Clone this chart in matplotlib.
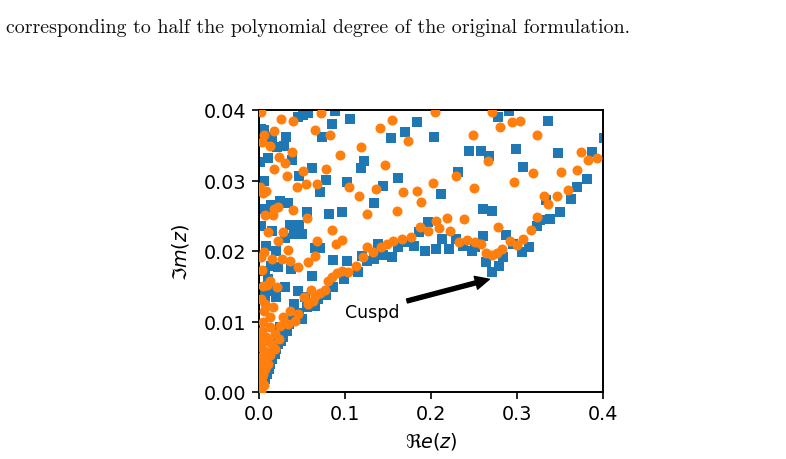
import matplotlib
matplotlib.use("Agg")
import matplotlib.pyplot as plt
import numpy as np

# ---- data ----
blue_re = [
    0.0570, 0.0512, 0.0453, 0.0884, 0.1058, 0.0849, 0.0733, 0.0314, 0.0058, 0.0151,
    0.0209, 0.0291, 0.0105, 0.0384, 0.0616, 0.0465, 0.0779, 0.0709, 0.1023, 0.0058,
    0.0244, 0.0337, 0.0140, 0.0012, 0.0023,
    0.0070, 0.0558, 0.0814, 0.0965, 0.0360, 0.0465, 0.0023, 0.0151, 0.0407, 0.0500,
    0.0302, 0.0081, 0.0198, 0.0651, 0.0709, 0.0860, 0.1023, 0.0140, 0.0221, 0.0372,
    0.0070, 0.0616, 0.0988, 0.0105, 0.0302, 0.0453, 0.0860, 0.0186, 0.0070, 0.0779,
    0.0070, 0.0198, 0.0407, 0.0535, 0.0558, 0.0686, 0.0651, 0.0500, 0.0395, 0.0465,
    0.0349, 0.0244, 0.0326, 0.0279, 0.0256, 0.0221, 0.0198, 0.0186, 0.0151, 0.0128,
    0.0116, 0.0093, 0.0070, 0.0047, 0.0035, 0.0012,
    0.1837, 0.1698, 0.1535, 0.2035, 0.2442, 0.1221, 0.1186, 0.1616, 0.2314, 0.1442,
    0.2116, 0.1337, 0.1965, 0.1860,
    0.1151, 0.1198, 0.1256, 0.1337, 0.1384, 0.1442, 0.1547, 0.1616, 0.1709, 0.1802,
    0.1930, 0.2058, 0.2128, 0.2209, 0.2291, 0.2372, 0.2477, 0.2512, 0.2605, 0.2640,
    0.2709, 0.2791, 0.2837, 0.2872, 0.2953, 0.3058, 0.3140, 0.3233,
    0.2907, 0.2779, 0.3360, 0.2581, 0.2674, 0.2988, 0.3477, 0.3872, 0.4012, 0.3070,
    0.3814, 0.3698, 0.3628, 0.3337, 0.3500, 0.3384, 0.3267, 0.2605, 0.2709,
]
blue_im = [
    0.03957, 0.03929, 0.03901, 0.03990, 0.03872, 0.03801, 0.03617, 0.03617, 0.03716, 0.03617,
    0.03475, 0.03489, 0.03319, 0.03291, 0.03177, 0.03064, 0.03007, 0.02837, 0.02979, 0.02993,
    0.02710, 0.02681, 0.02652, 0.03262, 0.03730,
    0.02596, 0.02553, 0.02525, 0.02553, 0.02369, 0.02369, 0.02355, 0.02284, 0.02241, 0.02241,
    0.02184, 0.02071, 0.02000, 0.02043, 0.02043, 0.01872, 0.01858, 0.01787, 0.01773, 0.01745,
    0.01716, 0.01645, 0.01603, 0.01603, 0.01489, 0.01433, 0.01489, 0.01433, 0.01489, 0.01376,
    0.01348, 0.01348, 0.01248, 0.01348, 0.01206, 0.01319, 0.01220, 0.01035, 0.01064, 0.01121,
    0.00965, 0.00922, 0.00865, 0.00780, 0.00723, 0.00681, 0.00610, 0.00539, 0.00468, 0.00397,
    0.00326, 0.00255, 0.00184, 0.00142, 0.00099, 0.00043,
    0.03830, 0.03688, 0.03603, 0.03617, 0.03418, 0.03277, 0.03177, 0.03035, 0.03121, 0.02922,
    0.02809, 0.02681, 0.02411, 0.02270,
    0.01702, 0.01929, 0.01858, 0.01887, 0.02099, 0.01943, 0.01915, 0.02057, 0.02128, 0.02071,
    0.02000, 0.02028, 0.02170, 0.02028, 0.02170, 0.02071, 0.02000, 0.02057, 0.02213, 0.01844,
    0.01702, 0.01787, 0.01915, 0.02227, 0.02099, 0.01986, 0.02057, 0.02355,
    0.03986, 0.03901, 0.03844, 0.03418, 0.03348, 0.03447, 0.03390, 0.03404, 0.03603, 0.03191,
    0.03021, 0.02908, 0.02738, 0.02723, 0.02553, 0.02454, 0.02440, 0.02596, 0.02567,
]

orange_re = [
    0.0023, 0.0256, 0.0395, 0.0721, 0.0651, 0.0826, 0.0174, 0.0058, 0.0035, 0.0128,
    0.0384, 0.0233, 0.0302, 0.0174, 0.0942, 0.0779, 0.0512, 0.0326, 0.0442, 0.0547,
    0.0674, 0.0081, 0.0047, 0.0012, 0.1047,
    0.0221, 0.0174, 0.0395, 0.0070, 0.0163, 0.0558, 0.0105, 0.0279, 0.0221, 0.0849,
    0.0674, 0.0965, 0.0895, 0.0337, 0.0058, 0.0651, 0.0023, 0.0151, 0.0267, 0.0360,
    0.0570, 0.0453, 0.0035, 0.0965, 0.1035, 0.0907, 0.0849, 0.0802, 0.0128, 0.0093,
    0.0209, 0.0047, 0.0605, 0.0767, 0.0709, 0.0523, 0.0651, 0.1128,
    0.0070, 0.0163, 0.0337, 0.0453, 0.0419, 0.0570, 0.0628, 0.0244, 0.0128, 0.0047,
    0.0035, 0.0186, 0.0105, 0.0186, 0.0070, 0.0035, 0.0105, 0.0047, 0.0035, 0.0012,
    0.0023, 0.0058, 0.0128, 0.0279, 0.0360, 0.0081, 0.0151, 0.0023, 0.0128, 0.0081,
    0.0023, 0.0070, 0.0035, 0.0058, 0.0023, 0.0012, 0.0012, 0.0233,
    0.2047, 0.1547, 0.1407, 0.1733, 0.1186, 0.1465, 0.2488, 0.2291, 0.2023, 0.1360,
    0.1163, 0.1674, 0.1837, 0.1884, 0.2500, 0.1256, 0.1605, 0.2058, 0.2186, 0.2384,
    0.1209, 0.1256, 0.1326, 0.1419, 0.1488, 0.1558, 0.1663, 0.1767, 0.1872, 0.1965,
    0.2093, 0.2221, 0.2326, 0.2419, 0.2512, 0.2581, 0.2640, 0.2709, 0.2767, 0.2826,
    0.2919, 0.3000, 0.3070, 0.3163, 0.2779,
    0.2709, 0.2802, 0.2942, 0.3035, 0.3233, 0.2663, 0.3744, 0.3826, 0.3930, 0.3186,
    0.3512, 0.3698, 0.2965, 0.3593, 0.3465, 0.3314, 0.3360, 0.3233,
]
orange_im = [
    0.03972, 0.03872, 0.03844, 0.03957, 0.03716, 0.03645, 0.03702, 0.03645, 0.03546, 0.03489,
    0.03404, 0.03333, 0.03248, 0.03163, 0.03362, 0.03163, 0.03135, 0.03064, 0.02908, 0.02950,
    0.02950, 0.02851, 0.02823, 0.02908, 0.02908,
    0.02624, 0.02596, 0.02582, 0.02511, 0.02511, 0.02468, 0.02270, 0.02270, 0.02142, 0.02298,
    0.02142, 0.02156, 0.02099, 0.02014, 0.01986, 0.01929, 0.01915, 0.01887, 0.01887, 0.01858,
    0.01844, 0.01773, 0.01730, 0.01716, 0.01702, 0.01688, 0.01631, 0.01574, 0.01574, 0.01518,
    0.01489, 0.01504, 0.01447, 0.01447, 0.01404, 0.01348, 0.01362, 0.01787,
    0.01248, 0.01206, 0.00965, 0.01106, 0.01007, 0.01248, 0.01291, 0.00936, 0.00922, 0.00993,
    0.00865, 0.00823, 0.00723, 0.00610, 0.00582, 0.00440, 0.00397, 0.00255, 0.00142, 0.00043,
    0.01319, 0.01149, 0.01064, 0.01064, 0.01149, 0.00780, 0.00681, 0.00638, 0.00525, 0.00496,
    0.00355, 0.00326, 0.00213, 0.00099, 0.00010, 0.00752, 0.00496, 0.00752,
    0.03972, 0.03858, 0.03745, 0.03560, 0.03475, 0.03220, 0.03645, 0.03064, 0.02965, 0.02879,
    0.02780, 0.02837, 0.02851, 0.02695, 0.02894, 0.02525, 0.02567, 0.02426, 0.02468, 0.02454,
    0.01915, 0.02057, 0.01986, 0.02057, 0.02099, 0.02142, 0.02170, 0.02199, 0.02340, 0.02284,
    0.02326, 0.02284, 0.02128, 0.02156, 0.02128, 0.02099, 0.01972, 0.01943, 0.01972, 0.02028,
    0.02142, 0.02085, 0.02170, 0.02298, 0.02340,
    0.03972, 0.03759, 0.03830, 0.03844, 0.03645, 0.03277, 0.03404, 0.03291, 0.03319, 0.03106,
    0.03121, 0.03149, 0.02979, 0.02865, 0.02780, 0.02780, 0.02667, 0.02482,
]

x_ticks = [0.0, 0.1, 0.2, 0.3, 0.4]
y_ticks = [0.00, 0.01, 0.02, 0.03, 0.04]
caption = "corresponding to half the polynomial degree of the original formulation."
annot_text = "Cuspd"
annot_xy = (0.2733, 0.01617)
annot_xytext = (0.1, 0.01135)

# ---- figure ----
W, H = 786, 460
fig = plt.figure(figsize=(W / 100, H / 100), dpi=100)

# caption line (from the page above the chart)
cap = fig.text(6 / W, 1 - 33 / H, caption, family="cmr10", fontsize=16,
               ha="left", va="baseline", color="#111111")
fig.canvas.draw()
bb = cap.get_window_extent()
cap.set_fontsize(16 * 624 / bb.width)

ax = fig.add_axes([259 / W, 1 - 393 / H, 344 / W, 282 / H])
ax.scatter(blue_re, blue_im, marker="s", s=46, color="#1f77b4", linewidths=0, zorder=2)
ax.scatter(orange_re, orange_im, marker="o", s=52, color="#ff7f0e", linewidths=0, zorder=3)

ax.set_xlim(0, 0.4)
ax.set_ylim(0, 0.04)
ax.set_xticks(x_ticks)
ax.set_yticks(y_ticks)
ax.set_xticklabels([f"{v:.1f}" for v in x_ticks])
ax.set_yticklabels([f"{v:.2f}" for v in y_ticks])
ax.tick_params(labelsize=13.8, length=5, width=1.2, pad=4)
for sp in ax.spines.values():
    sp.set_linewidth(1.4)

ax.set_xlabel(r"$\Re e(z)$", fontsize=13.8, labelpad=5)
ax.set_ylabel(r"$\Im m(z)$", fontsize=13.8, labelpad=9)

ax.annotate(annot_text, xy=annot_xy, xytext=annot_xytext,
            fontsize=12.5, ha="left", va="center",
            arrowprops=dict(facecolor="black", edgecolor="black", shrink=0.05,
                            width=2.9, headwidth=9.5, headlength=10))

fig.savefig("out.png", dpi=100)
